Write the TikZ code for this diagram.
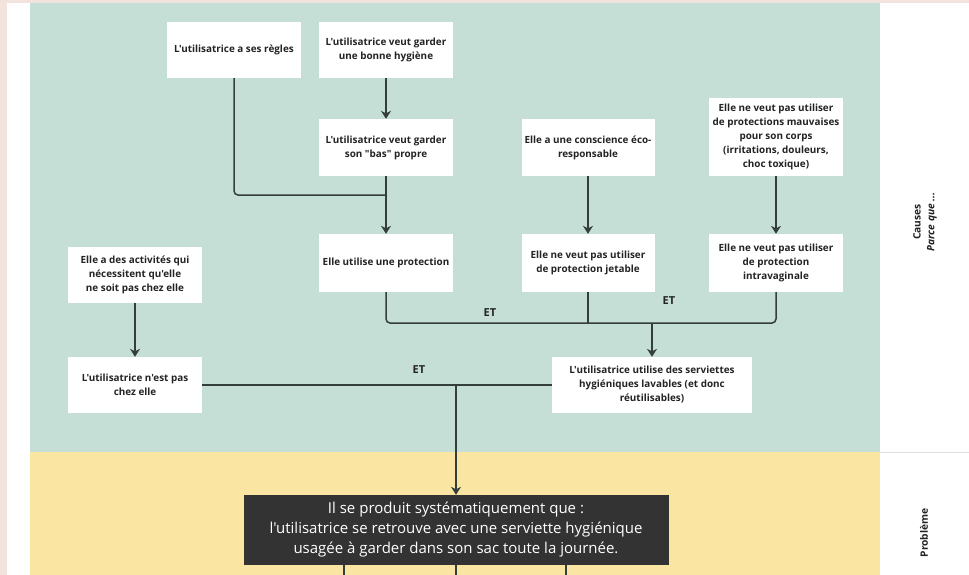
\documentclass[tikz,border=0pt]{standalone}
\usepackage{fontspec}
\setmainfont{Open Sans}[Ligatures=TeXOff]
\usetikzlibrary{arrows.meta}
\definecolor{pinkbg}{RGB}{242,227,221}
\definecolor{teal}{RGB}{197,222,214}
\definecolor{yel}{RGB}{250,230,162}
\definecolor{darkbox}{RGB}{51,51,51}
\definecolor{linec}{RGB}{52,62,58}
\definecolor{txt}{RGB}{35,35,35}
\tikzset{
  cbox/.style={fill=white, draw=none, minimum width=134pt, minimum height=56pt, inner sep=2pt,
    align=center, font=\bfseries\fontsize{9.9}{14}\selectfont, text=txt},
  conn/.style={draw=linec, line width=1.5pt, rounded corners=4pt},
  arr/.style={conn, -{Stealth[width=10pt,length=8pt,inset=2.5pt]}},
  etlab/.style={font=\bfseries\fontsize{11}{13}\selectfont, text=txt},
  side/.style={rotate=90, font=\bfseries\fontsize{10.2}{12}\selectfont, text=txt}
}
\begin{document}
\begin{tikzpicture}[x=1pt,y=-1pt]
\useasboundingbox (0,0) rectangle (969,575);
% backgrounds
\fill[pinkbg] (0,0) rectangle (969,575);
\fill[white] (7,3) rectangle (969,575);
\fill[teal] (30,3) rectangle (880,452);
\fill[yel] (30,452) rectangle (880,575);
\draw[gray!25, line width=0.6pt] (880,452) -- (969,452);
% nodes
\node[cbox] (A) at (234,50) {L'utilisatrice a ses règles};
\node[cbox] (B) at (386,50) {L'utilisatrice veut garder\\une bonne hygiène};
\node[cbox, minimum height=57pt] (C) at (386,147.5) {L'utilisatrice veut garder\\son "bas" propre};
\node[cbox, minimum height=58pt] (D) at (386,263) {Elle utilise une protection};
\node[cbox] (E) at (135,275) {Elle a des activités qui\\nécessitent qu'elle\\ne soit pas chez elle};
\node[cbox] (F) at (135,385) {L'utilisatrice n'est pas\\chez elle};
\node[cbox, minimum width=133pt, minimum height=57pt] (G) at (588,147.5) {Elle a une conscience éco-\\responsable};
\node[cbox, minimum width=133pt, minimum height=58pt] (H) at (588,263) {Elle ne veut pas utiliser\\de protection jetable};
\node[cbox, minimum height=78pt] (I) at (776,137) {Elle ne veut pas utiliser\\de protections mauvaises\\pour son corps\\(irritations, douleurs,\\choc toxique)};
\node[cbox, minimum height=58pt] (J) at (776,263) {Elle ne veut pas utiliser\\de protection\\intravaginale};
\node[cbox, minimum width=200pt] (K) at (652,385) {L'utilisatrice utilise des serviettes\\hygiéniques lavables (et donc\\réutilisables)};
\node[fill=darkbox, text=white, minimum width=425pt, minimum height=70pt, align=center,
  font=\fontsize{15}{20}\selectfont, inner sep=2pt] (L) at (456,530)
  {Il se produit systématiquement que :\\l'utilisatrice se retrouve avec une serviette hygiénique\\usagée à garder dans son sac toute la journée.};
% junction coordinates
\coordinate (jA) at (386,195);
\coordinate (jDJ) at (652,323);
\coordinate (jH) at (588,323);
\coordinate (jFK) at (456,385);
% connectors
\draw[conn] (A.south) |- (jA);
\draw[arr] (B.south) -- (C.north);
\draw[arr] (C.south) -- (D.north);
\draw[arr] (E.south) -- (F.north);
\draw[arr] (G.south) -- (H.north);
\draw[arr] (I.south) -- (J.north);
\draw[conn] (D.south) |- (jDJ) -| (J.south);
\draw[conn] (H.south) -- (jH);
\draw[arr] (jDJ) -- (K.north);
\draw[conn] (F.east) -- (K.west);
\draw[arr] (jFK) -- (L.north);
\coordinate (b1) at (344,575);
\coordinate (b2) at (456,575);
\coordinate (b3) at (566,575);
\draw[conn] (L.south -| b1) -- (b1);
\draw[conn] (L.south) -- (b2);
\draw[conn] (L.south -| b3) -- (b3);
% labels
\node[etlab] (et1) at (490,313) {ET};
\node[etlab] (et2) at (669,301) {ET};
\node[etlab] (et3) at (419,370) {ET};
\node[side] (causes) at (917,222) {Causes};
\node[side, font=\bfseries\itshape\fontsize{10.2}{12}\selectfont] (parce) at (932,222) {Parce que ...};
\node[side] (prob) at (924,533) {Problème};
\end{tikzpicture}
\end{document}
